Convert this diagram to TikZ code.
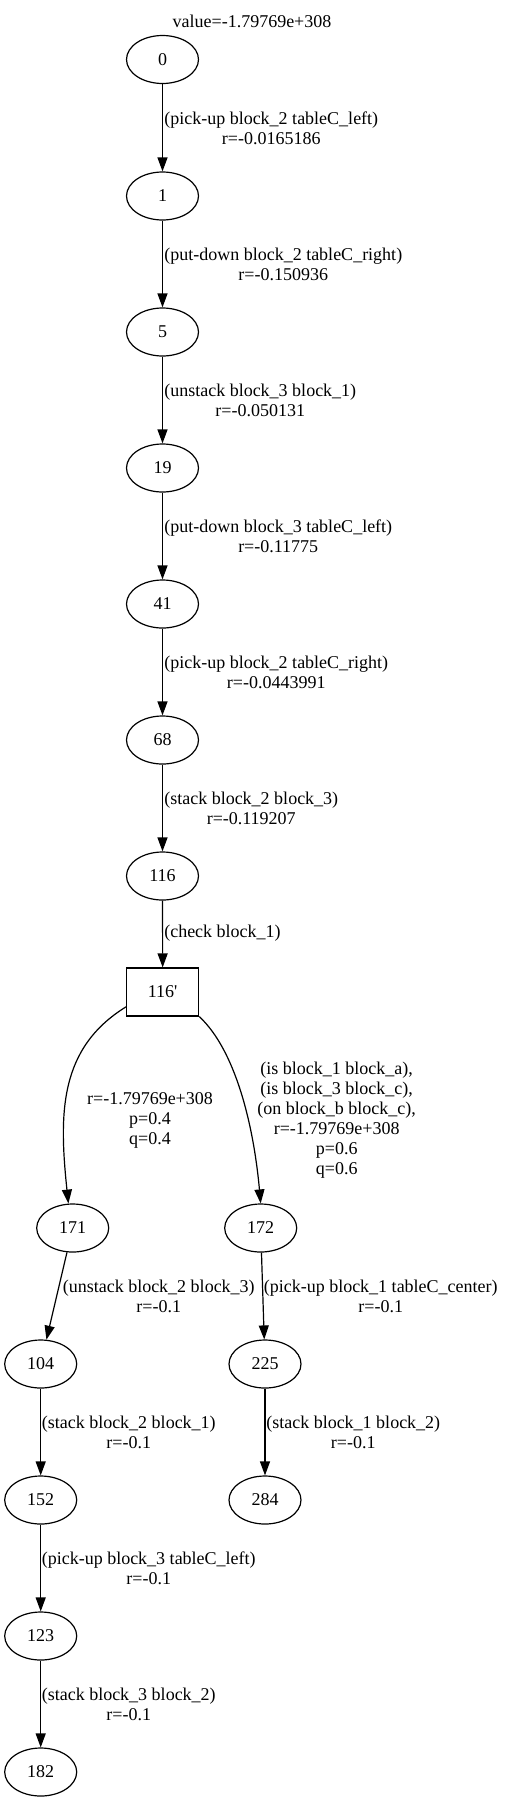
\documentclass[tikz,border=0pt]{standalone}
\usepackage{fontspec}
\newfontfamily\gvfont{Liberation Serif}
\usetikzlibrary{shapes.geometric,arrows.meta}
\begin{document}
\begin{tikzpicture}[x=0.75pt,y=-0.75pt,
  every node/.style={font=\gvfont\fontsize{13.5}{15}\selectfont},
  st/.style={draw,ellipse,minimum width=54pt,minimum height=36pt,inner sep=0pt,line width=0.9pt},
  chk/.style={draw,rectangle,minimum width=54pt,minimum height=36pt,inner sep=0pt,line width=0.9pt},
  lab/.style={anchor=west,align=center,inner sep=0pt},
  clab/.style={anchor=center,align=center,inner sep=0pt},
  arr/.style={-{Triangle[length=10.5pt,width=7.5pt]},line width=0.9pt}]
\useasboundingbox (0,0) rectangle (504,1803);
\node (title) at (252,21) {value=-1.79769e+308};
\node[st] (n0) at (162.5,59.5) {0};
\node[st] (n1) at (162.5,196) {1};
\node[st] (n5) at (162.5,332) {5};
\node[st] (n19) at (162.5,468) {19};
\node[st] (n41) at (162.5,604) {41};
\node[st] (n68) at (162.5,740) {68};
\node[st] (n116) at (162.5,876) {116};
\node[chk] (n116p) at (162.7,992) {116'};
\node[st] (n171) at (72.7,1228) {171};
\node[st] (n172) at (260.7,1228) {172};
\node[st] (n104) at (40.7,1364) {104};
\node[st] (n225) at (265,1364) {225};
\node[st] (n152) at (40.7,1500) {152};
\node[st] (n284) at (265,1500) {284};
\node[st] (n123) at (40.7,1636) {123};
\node[st] (n182) at (40.7,1772) {182};

\draw[arr] (n0) -- (n1);
\draw[arr] (n1) -- (n5);
\draw[arr] (n5) -- (n19);
\draw[arr] (n19) -- (n41);
\draw[arr] (n41) -- (n68);
\draw[arr] (n68) -- (n116);
\draw[arr] (n116) -- (n116p);
\draw[arr] (n116p.202) .. controls (58.7,1048.3) and (59,1114) .. (n171.100);
\draw[arr] (n116p.south east) .. controls (235.2,1050) and (253.5,1124) .. (n172.north);
\draw[arr] (n171) -- (n104);
\draw[arr] (n172) -- (n225);
\draw[arr] (n104) -- (n152);
\draw[arr] (n225) -- (n284);
\draw[arr] (n152) -- (n123);
\draw[arr] (n123) -- (n182);

\node[lab] (l1) at (164,128) {(pick-up block\_2 tableC\_left)\\r=-0.0165186};
\node[lab] (l2) at (164,264) {(put-down block\_2 tableC\_right)\\r=-0.150936};
\node[lab] (l3) at (164,400) {(unstack block\_3 block\_1)\\r=-0.050131};
\node[lab] (l4) at (164,536) {(put-down block\_3 tableC\_left)\\r=-0.11775};
\node[lab] (l5) at (164,672) {(pick-up block\_2 tableC\_right)\\r=-0.0443991};
\node[lab] (l6) at (164,808) {(stack block\_2 block\_3)\\r=-0.119207};
\node[lab] (l7) at (164,933) {(check block\_1)};
\node[clab] (l8) at (150,1120) {r=-1.79769e+308\\p=0.4\\q=0.4};
\node[clab] (l9) at (336.7,1120) {(is block\_1 block\_a),\\(is block\_3 block\_c),\\(on block\_b block\_c),\\r=-1.79769e+308\\p=0.6\\q=0.6};
\node[lab] (l10) at (62.5,1296) {(unstack block\_2 block\_3)\\r=-0.1};
\node[lab] (l11) at (263.5,1296) {(pick-up block\_1 tableC\_center)\\r=-0.1};
\node[lab] (l12) at (41.5,1432) {(stack block\_2 block\_1)\\r=-0.1};
\node[lab] (l13) at (266,1432) {(stack block\_1 block\_2)\\r=-0.1};
\node[lab] (l14) at (41.5,1568) {(pick-up block\_3 tableC\_left)\\r=-0.1};
\node[lab] (l15) at (41.5,1704) {(stack block\_3 block\_2)\\r=-0.1};
\end{tikzpicture}
\end{document}
